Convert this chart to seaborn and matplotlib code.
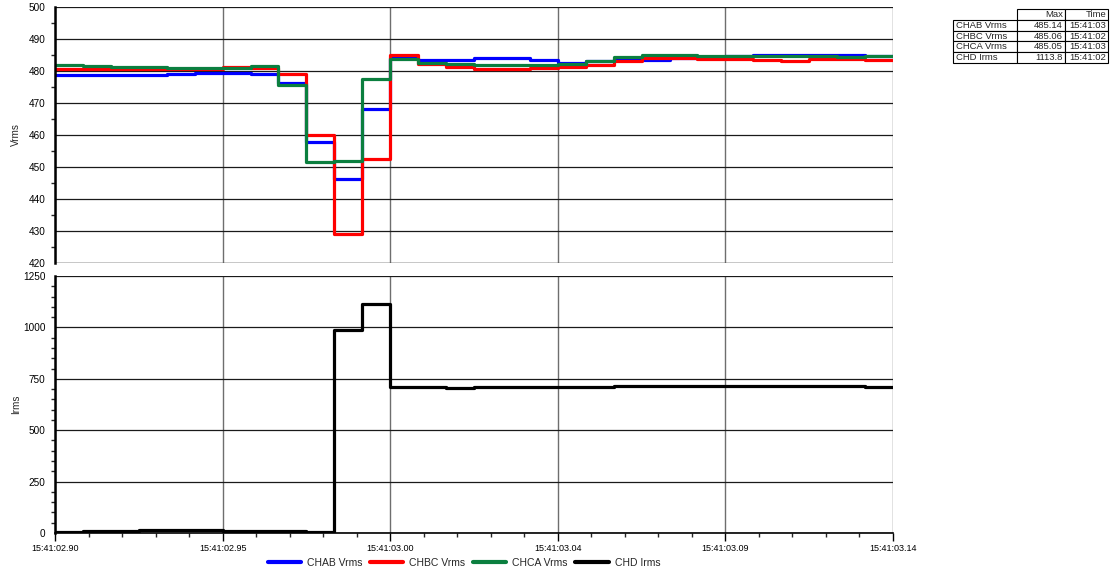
import numpy as np
import pandas as pd
import matplotlib
matplotlib.use("Agg")
import matplotlib.pyplot as plt
from matplotlib.ticker import MultipleLocator, FuncFormatter
from matplotlib.lines import Line2D
import seaborn as sns

# Half-cycle RMS samples starting at 15:41:02.900, one value every 8 ms
START_LABEL = "15:41:"
START_SEC = 2.90
SAMPLE_DT = 0.008

chab_vrms = [478.6, 478.6, 478.9, 478.9, 479.1, 479.3, 479.3, 479.1, 476.4, 457.7,
             446.4, 468.0, 484.0, 483.3, 483.3, 484.0, 484.0, 483.3, 482.6, 483.0,
             483.8, 483.5, 484.2, 484.4, 484.6, 485.1, 485.14, 485.1, 484.9, 484.8]
chbc_vrms = [480.7, 480.7, 480.6, 480.6, 480.5, 480.6, 481.2, 481.0, 479.2, 460.1,
             429.0, 452.4, 485.06, 482.3, 481.2, 480.5, 480.5, 480.8, 481.3, 482.0,
             483.1, 484.0, 484.0, 483.7, 483.6, 483.3, 483.1, 483.6, 483.7, 483.5]
chca_vrms = [481.8, 481.5, 481.2, 481.2, 481.0, 481.0, 480.9, 481.5, 475.6, 451.5,
             452.0, 477.4, 483.8, 482.6, 482.3, 482.0, 482.0, 482.0, 482.3, 483.2,
             484.3, 485.05, 485.0, 484.8, 484.8, 484.6, 484.6, 484.6, 484.5, 484.6]
chd_irms = [5, 8, 12, 13, 15, 14, 9, 8, 8, 5,
            987, 1113.8, 712, 712, 705, 711, 711, 711, 710, 710,
            714, 714, 714, 714, 717, 717, 717, 717, 717, 712]

volt_names = ["CHAB Vrms", "CHBC Vrms", "CHCA Vrms"]
curr_name = "CHD Irms"
colors = {"CHAB Vrms": "#0000ff", "CHBC Vrms": "#ff0000",
          "CHCA Vrms": "#0b7f3f", "CHD Irms": "#000000"}

n = len(chab_vrms)
t = np.arange(n + 1) * SAMPLE_DT  # sample start times plus the end of the last sample


def step_frame(name, vals):
    # repeat the last value so steps-post closes the final interval
    v = list(vals) + [vals[-1]]
    return pd.DataFrame({"t": t, "value": v, "series": name})


volt_df = pd.concat([step_frame(nm, v) for nm, v in
                     zip(volt_names, [chab_vrms, chbc_vrms, chca_vrms])])
curr_df = step_frame(curr_name, chd_irms)

sns.set_style("white")
plt.rcParams["font.family"] = ["Liberation Sans", "DejaVu Sans"]
plt.rcParams["axes.unicode_minus"] = False

W, H = 1114, 573
fig = plt.figure(figsize=(W / 100, H / 100), dpi=100)


def px_axes(x0, y0, x1, y1):
    return fig.add_axes([x0 / W, 1 - y1 / H, (x1 - x0) / W, (y1 - y0) / H])


ax_v = px_axes(55, 7, 893, 263)
ax_i = px_axes(55, 276, 893, 533)

for nm in volt_names:
    sns.lineplot(data=volt_df[volt_df.series == nm], x="t", y="value", ax=ax_v,
                 color=colors[nm], linewidth=2.3, drawstyle="steps-post",
                 estimator=None, legend=False)
sns.lineplot(data=curr_df, x="t", y="value", ax=ax_i, color=colors[curr_name],
             linewidth=2.3, drawstyle="steps-post", estimator=None, legend=False)

t_end = n * SAMPLE_DT
major_dt = t_end / 5


def time_fmt(x, pos):
    sec = START_SEC + x
    return f"{START_LABEL}{sec:05.2f}"


for ax in (ax_v, ax_i):
    ax.set_xlim(0, t_end)
    ax.xaxis.set_major_locator(MultipleLocator(major_dt))
    ax.xaxis.set_minor_locator(MultipleLocator(major_dt / 5))
    ax.grid(True, which="major", axis="x", color="#6e6e6e", linewidth=1.0)
    ax.grid(True, which="major", axis="y", color="#1a1a1a", linewidth=0.9)
    ax.set_axisbelow(True)
    for side in ("top", "right", "bottom"):
        ax.spines[side].set_visible(False)
    ax.spines["left"].set_color("black")
    ax.spines["left"].set_linewidth(1.8)
    ax.tick_params(axis="y", which="major", direction="out", length=5, width=1,
                   labelsize=7.2, pad=2, colors="black")
    ax.tick_params(axis="y", which="minor", direction="out", length=3, width=1,
                   left=True)
    ax.set_xlabel("")

ax_v.set_ylim(420, 500)
ax_v.yaxis.set_major_locator(MultipleLocator(10))
ax_v.yaxis.set_minor_locator(MultipleLocator(5))
ax_v.set_ylabel("Vrms", fontsize=7.2)
ax_v.tick_params(axis="x", which="both", bottom=False, labelbottom=False)
ax_v.axhline(420, color="#6e6e6e", linewidth=1.0, zorder=0.5)

ax_i.set_ylim(0, 1250)
ax_i.yaxis.set_major_locator(MultipleLocator(250))
ax_i.yaxis.set_minor_locator(MultipleLocator(50))
ax_i.set_ylabel("Irms", fontsize=7.2)
ax_i.spines["bottom"].set_visible(True)
ax_i.spines["bottom"].set_color("black")
ax_i.spines["bottom"].set_linewidth(1.2)
ax_i.xaxis.set_major_formatter(FuncFormatter(time_fmt))
ax_i.tick_params(axis="x", which="major", direction="out", length=6, width=1,
                 labelsize=6.5, pad=2, bottom=True, colors="black")
ax_i.tick_params(axis="x", which="minor", direction="out", length=3, width=1,
                 bottom=True)

# both y labels sit in the same column left of the tick labels
for ax in (ax_v, ax_i):
    ax.yaxis.set_label_coords(-0.041, 0.5)

# legend shared by both panels
handles = [Line2D([], [], color=colors[nm], linewidth=3)
           for nm in volt_names + [curr_name]]
fig.legend(handles, volt_names + [curr_name], loc="center",
           bbox_to_anchor=(464 / W, 1 - 562.7 / H), ncol=4, frameon=False,
           fontsize=7.5, handlelength=3.2, handletextpad=0.6,
           columnspacing=0.7)

# max / time summary table
series_vals = {"CHAB Vrms": chab_vrms, "CHBC Vrms": chbc_vrms,
               "CHCA Vrms": chca_vrms, "CHD Irms": chd_irms}
rows = []
for nm, vals in series_vals.items():
    k = int(np.argmax(vals))
    sec = int(np.floor(START_SEC + k * SAMPLE_DT + 1e-9))
    mx = max(vals)
    mx_txt = f"{mx:.1f}" if mx >= 1000 else f"{mx:.2f}"
    rows.append([nm, mx_txt, f"{START_LABEL}{sec:02d}"])

ax_t = px_axes(953, 9, 1108, 63)
ax_t.axis("off")
cell_text = [["", "Max", "Time"]] + rows
tbl = ax_t.table(cellText=cell_text, colWidths=[64, 48, 43],
                 bbox=[0, 0, 1, 1], cellLoc="right")
tbl.auto_set_font_size(False)
tbl.set_fontsize(6.8)
for (r, c), cell in tbl.get_celld().items():
    cell.set_linewidth(0.8)
    cell.set_edgecolor("black")
    cell.PAD = 0.04
    if c == 0:
        cell.set_text_props(ha="left")
        cell._loc = "left"
    if r == 0 and c == 0:
        cell.set_linewidth(0)

fig.savefig("out.png", dpi=100)
